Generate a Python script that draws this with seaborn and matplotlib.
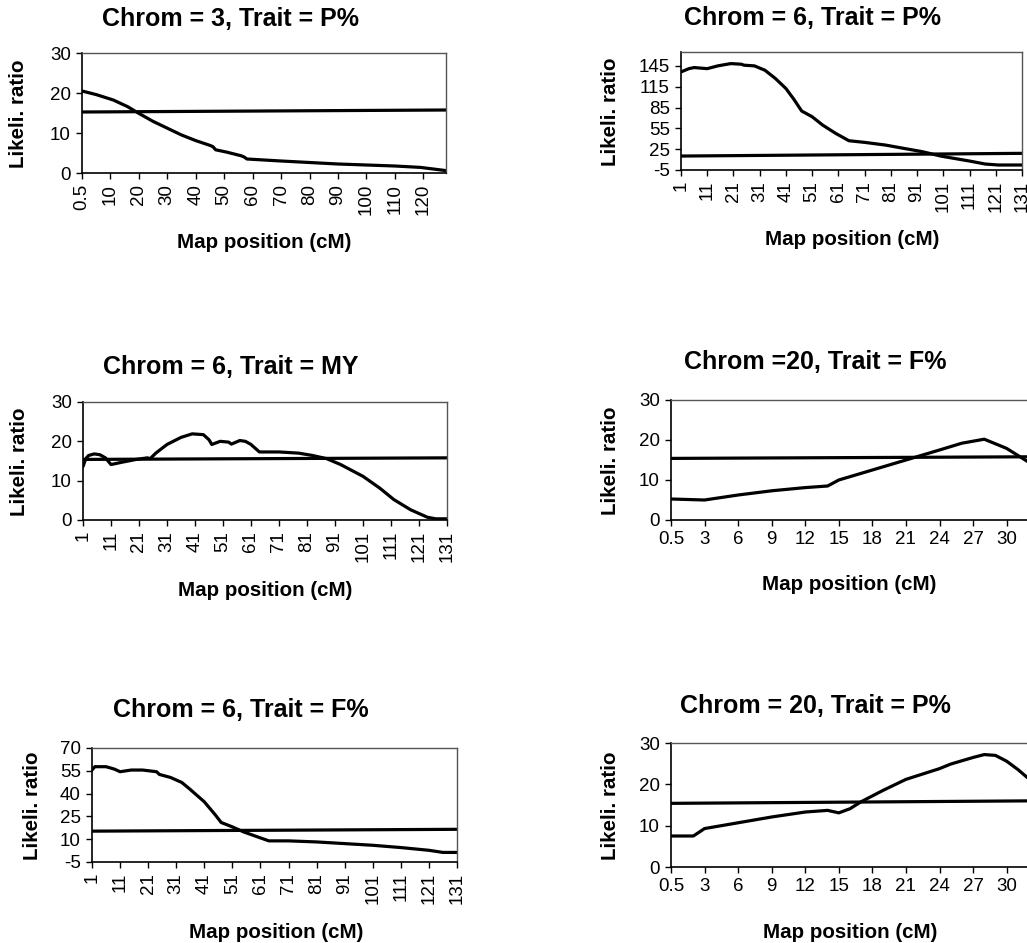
import numpy as np
import pandas as pd
import matplotlib
matplotlib.use('Agg')
import matplotlib.pyplot as plt
import seaborn as sns

# 曲线数据 (map position in cM, likelihood ratio)
c3p_pos = [0.5, 5, 11, 16, 20, 25, 30, 35, 40, 45, 46, 47, 51, 56, 57, 58, 70, 90, 110, 119, 128]
c3p_lr = [20.5, 19.6, 18.25, 16.6, 14.9, 12.9, 11.2, 9.5, 8.1, 6.9, 6.6, 5.8, 5.2, 4.3, 4.0, 3.5, 3.0, 2.25, 1.75, 1.4, 0.6]
c3p_thr = [15.25, 15.75]

c6p_pos = [1, 4, 6, 11, 15, 20, 24, 25, 29, 33, 37, 41, 44, 47, 51, 55, 60, 65, 71, 79, 86, 93, 100, 105, 111, 117, 122, 131]
c6p_lr = [136.3, 141, 142.6, 141, 145, 148.3, 147.4, 146, 145, 138.7, 126.8, 112.4, 97, 80, 71.7, 59.7, 47.7, 37.2, 34.8, 30.9, 26.1, 21.4, 15.1, 11.8, 7.9, 3.6, 2.2, 2.2]
c6p_thr = [15.1, 19.0]

c6my_pos = [1, 2, 3, 5, 7, 9, 11, 15, 20, 24, 25, 27, 31, 36, 40, 44, 46, 47, 50, 53, 54, 57, 59, 61, 64, 71, 78, 83, 88, 93, 101, 107, 112, 118, 124, 127, 131]
c6my_lr = [13.6, 15.6, 16.4, 16.8, 16.6, 15.8, 14.1, 14.7, 15.4, 15.8, 15.6, 17.0, 19.2, 21.0, 21.9, 21.7, 20.4, 19.2, 20.0, 19.8, 19.3, 20.2, 20.0, 19.2, 17.3, 17.3, 17.0, 16.4, 15.6, 14.1, 11.1, 8.1, 5.2, 2.6, 0.7, 0.3, 0.3]
c6my_thr = [15.4, 15.8]

c20f_pos = [0.5, 3, 6, 9, 12, 14, 15, 18, 21, 24, 26, 28, 30, 32]
c20f_lr = [5.25, 5.0, 6.25, 7.3, 8.1, 8.5, 10.0, 12.5, 15.0, 17.5, 19.2, 20.2, 17.9, 14.4]
c20f_thr = [15.4, 15.8]

c6f_pos = [1, 2, 6, 9, 11, 15, 19, 24, 25, 29, 33, 36, 41, 45, 47, 51, 55, 60, 64, 71, 81, 91, 101, 111, 121, 126, 131]
c6f_lr = [55.5, 57.7, 57.7, 56.1, 54.4, 55.5, 55.5, 54.4, 52.6, 50.6, 47.3, 42.7, 34.6, 25.8, 21.0, 18.1, 14.8, 11.5, 8.9, 8.9, 8.2, 7.1, 6.0, 4.5, 2.7, 1.3, 1.3]
c6f_thr = [15.3, 16.5]

c20p_pos = [0.5, 2, 3, 6, 9, 12, 14, 15, 16, 17, 19, 21, 24, 25, 27, 28, 29, 30, 31, 32]
c20p_lr = [7.5, 7.5, 9.3, 10.7, 12.1, 13.3, 13.7, 13.1, 14.1, 15.8, 18.6, 21.2, 23.8, 24.9, 26.5, 27.2, 27.0, 25.6, 23.6, 21.3]
c20p_thr = [15.4, 16.0]

# 标题和刻度
titles = ['Chrom = 3, Trait = P%', 'Chrom = 6, Trait = P%', 'Chrom = 6, Trait = MY',
          'Chrom =20, Trait = F%', 'Chrom = 6, Trait = F%', 'Chrom = 20, Trait = P%']
yticks_30 = [0, 10, 20, 30]
yticks_c6p = [-5, 25, 55, 85, 115, 145]
yticks_c6f = [-5, 10, 25, 40, 55, 70]

W, H = 1027, 943


def categories(first, last):
    # Excel-style category axis: 0.5, 1, 2, ... or 1, 2, 3, ...
    if first == 0.5:
        return [0.5] + list(range(1, last + 1))
    return list(range(first, last + 1))


def draw_panel(fig, box, pos, lr, thr, cats, step, yticks, ylim, rot, title, title_xy, xl_xy, yl_xy):
    l, t, r, b = box
    ax = fig.add_axes([l / W, 1 - b / H, (r - l) / W, (b - t) / H])
    idx = [cats.index(p) for p in pos]
    df = pd.DataFrame({'x': idx, 'lr': lr})
    sns.lineplot(data=df, x='x', y='lr', ax=ax, color='black', lw=2.3)
    sns.lineplot(x=[0, len(cats) - 1], y=thr, ax=ax, color='black', lw=2.3)
    ax.set_xlim(0, len(cats) - 1)
    ax.set_ylim(*ylim)
    ticks = list(range(0, len(cats), step))
    ax.set_xticks(ticks)
    ax.set_xticklabels([f'{cats[i]:g}' for i in ticks], rotation=rot)
    ax.set_yticks(yticks)
    ax.tick_params(labelsize=13.5, direction='out', length=4, width=1, pad=4,
                   color='black', labelcolor='black')
    ax.set_xlabel('')
    ax.set_ylabel('')
    for s in ['left', 'bottom']:
        ax.spines[s].set_color('black')
        ax.spines[s].set_linewidth(1.2)
    for s in ['top', 'right']:
        ax.spines[s].set_visible(True)
        ax.spines[s].set_color('#555555')
        ax.spines[s].set_linewidth(1.0)
    fig.text(title_xy[0] / W, 1 - title_xy[1] / H, title, ha='center', va='center',
             fontsize=18, fontweight='bold', color='black')
    fig.text(xl_xy[0] / W, 1 - xl_xy[1] / H, 'Map position (cM)', ha='center', va='center',
             fontsize=14.8, fontweight='bold', color='black')
    fig.text(yl_xy[0] / W, 1 - yl_xy[1] / H, 'Likeli. ratio', ha='center', va='center',
             rotation=90, fontsize=14.8, fontweight='bold', color='black')
    return ax


sns.set_style('ticks')
plt.rcParams['font.family'] = ['Liberation Sans', 'DejaVu Sans']
plt.rcParams['axes.unicode_minus'] = False

fig = plt.figure(figsize=(W / 100, H / 100), dpi=100)

draw_panel(fig, (82, 53, 446, 173), c3p_pos, c3p_lr, c3p_thr, categories(0.5, 128), 10,
           yticks_30, (0, 30), 90, titles[0], (230, 19), (264, 243), (19, 114))
draw_panel(fig, (681, 52, 1022, 170), c6p_pos, c6p_lr, c6p_thr, categories(1, 131), 10,
           yticks_c6p, (-5, 165), 90, titles[1], (812, 18), (852, 239), (610, 112))
draw_panel(fig, (83, 402, 447, 520), c6my_pos, c6my_lr, c6my_thr, categories(1, 131), 10,
           yticks_30, (0, 30), 90, titles[2], (231, 367), (265, 590), (20, 462))
draw_panel(fig, (671, 400, 1029, 520), c20f_pos, c20f_lr, c20f_thr, categories(0.5, 32), 3,
           yticks_30, (0, 30), 0, titles[3], (815, 362), (849, 585), (611, 461))
draw_panel(fig, (92, 748, 457, 862), c6f_pos, c6f_lr, c6f_thr, categories(1, 131), 10,
           yticks_c6f, (-5, 70), 90, titles[4], (241, 710), (276, 932), (32, 806))
draw_panel(fig, (671, 743, 1029, 867), c20p_pos, c20p_lr, c20p_thr, categories(0.5, 32), 3,
           yticks_30, (0, 30), 0, titles[5], (815, 706), (850, 932), (611, 806))

plt.savefig('out.png', dpi=100, facecolor='white')
